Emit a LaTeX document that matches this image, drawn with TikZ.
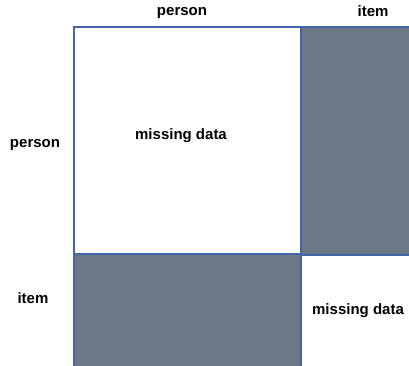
\documentclass[tikz,border=0pt]{standalone}
\usepackage{fontspec}
\setmainfont{Liberation Sans}
\definecolor{edge}{HTML}{4466A8}
\definecolor{block}{HTML}{6C7886}
\tikzset{
  lbl/.style={font=\fontsize{15}{17}\selectfont\bfseries, text=black, inner sep=0pt},
  graybox/.style={fill=block, draw=edge, line width=1.2pt},
  whitebox/.style={fill=white, draw=edge, line width=1.2pt},
}
\begin{document}
\begin{tikzpicture}[x=1pt,y=-1pt]
\useasboundingbox (0,0) rectangle (409,366);
\fill[white] (0,0) rectangle (409,366);
\draw[whitebox] (74,27) rectangle (301,254);
\draw[graybox] (301,27) rectangle (410,255);
\draw[graybox] (74,254) rectangle (301,367);
\node[lbl] (tp) at (182,13) {person};
\node[lbl] (ti) at (373,11) {item};
\node[lbl] (lp) at (35,145) {person};
\node[lbl] (li) at (33,298) {item};
\node[lbl] (m1) at (181,136) {missing data};
\node[lbl] (m2) at (358,311) {missing data};
\end{tikzpicture}
\end{document}
